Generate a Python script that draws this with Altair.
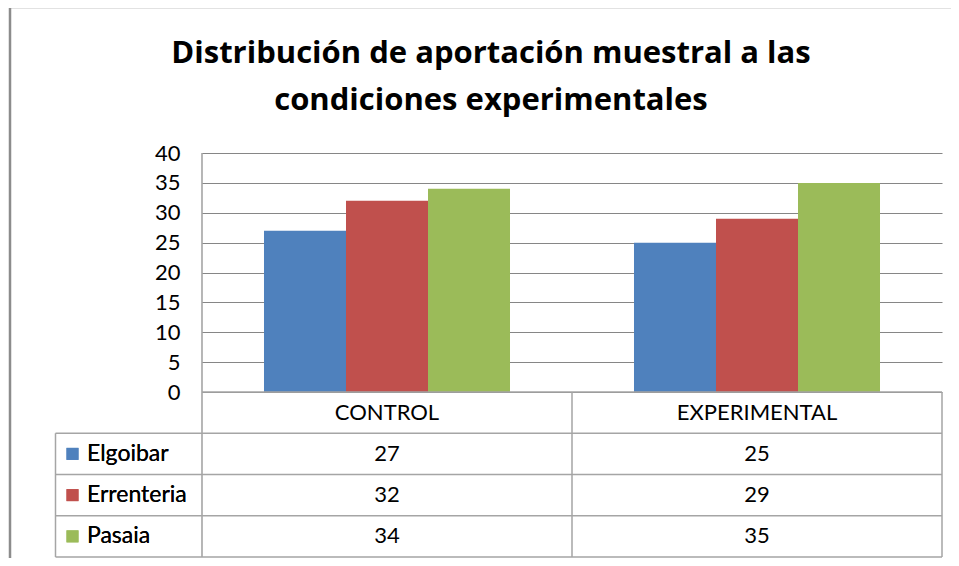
import altair as alt
import pandas as pd

categories = ["CONTROL", "EXPERIMENTAL"]
series = ["Elgoibar", "Errenteria", "Pasaia"]
control_values = [27, 32, 34]
experimental_values = [25, 29, 35]
series_colors = ["#4F81BD", "#C0504D", "#9BBB59"]
y_ticks = [0, 5, 10, 15, 20, 25, 30, 35, 40]
title_lines = ["Distribución de aportación muestral a las", "condiciones experimentales"]

rows = []
for s, c, e in zip(series, control_values, experimental_values):
    rows.append({"categoria": categories[0], "serie": s, "valor": c})
    rows.append({"categoria": categories[1], "serie": s, "valor": e})
df = pd.DataFrame(rows)
one = pd.DataFrame({"k": [0]})

# layout (pixels, relative to plot area)
W = 740
H = 239
ROW = 41.25
TABLE_BOTTOM = H + 4 * ROW
LEFT_COL = -146.5

FONT = "Lato"
TITLE_FONT = "Open Sans"
GRID = "#868686"
LINE = "#A5A5A5"
FRAME = "#8C8C8C"
TXT = "#000000"

x_enc = alt.X(
    "categoria:N",
    sort=categories,
    scale=alt.Scale(domain=categories, paddingInner=0, paddingOuter=0),
    axis=alt.Axis(title=None, labelFont=FONT, labelFontSize=22, labelColor=TXT,
                  labelBaseline="middle", labelPadding=20.5, ticks=False,
                  domain=False, labelAngle=0, grid=False),
)
color_enc = alt.Color("serie:N", scale=alt.Scale(domain=series, range=series_colors), legend=None)

bars = alt.Chart(df).mark_bar().encode(
    x=x_enc,
    xOffset=alt.XOffset("serie:N", sort=series,
                        scale=alt.Scale(domain=series, paddingInner=0, paddingOuter=0.756)),
    y=alt.Y("valor:Q", scale=alt.Scale(domain=[0, 40], nice=False),
            axis=alt.Axis(values=y_ticks, title=None, grid=True, gridColor=GRID,
                          gridOpacity=1, domain=False, ticks=False, labelPadding=22,
                          labelFont=FONT, labelFontSize=22, labelColor=TXT)),
    color=color_enc,
)

table_y = alt.Y("serie:N", sort=series,
                scale=alt.Scale(type="point", domain=series, range=[H + ROW, TABLE_BOTTOM], padding=0.5),
                axis=None)

values_txt = alt.Chart(df).mark_text(font=FONT, fontSize=22, color=TXT, baseline="middle").encode(
    x=alt.X("categoria:N", sort=categories), y=table_y, text="valor:Q")

keys = alt.Chart(df).mark_square(size=144, opacity=1, filled=True).encode(
    x=alt.value(-129.5), y=table_y, color=color_enc)

row_labels = alt.Chart(df).mark_text(font=FONT, fontSize=23, color=TXT, align="left", baseline="middle").encode(
    x=alt.value(-115), y=table_y, text="serie:N")


def rule(x1, x2, y1, y2, color=LINE, width=1.5):
    return alt.Chart(one).mark_rule(color=color, strokeWidth=width).encode(
        x=alt.value(x1), x2=alt.value(x2), y=alt.value(y1), y2=alt.value(y2))


lines = [
    rule(0, 0, 0, TABLE_BOTTOM, GRID, 1.2),
    rule(0, W, H, H),
    rule(LEFT_COL, W, H + ROW, H + ROW),
    rule(LEFT_COL, W, H + 2 * ROW, H + 2 * ROW),
    rule(LEFT_COL, W, H + 3 * ROW, H + 3 * ROW),
    rule(LEFT_COL, W, TABLE_BOTTOM, TABLE_BOTTOM),
    rule(LEFT_COL, LEFT_COL, H + ROW, TABLE_BOTTOM),
    rule(W / 2, W / 2, H, TABLE_BOTTOM),
    rule(W, W, H, TABLE_BOTTOM),
    rule(-192, W + 20, -146, -146, FRAME, 2.5),
    rule(-192, -192, -146, 420, FRAME, 2.5),
]

chart = alt.layer(bars, values_txt, keys, row_labels, *lines).resolve_scale(
    y="independent"
).properties(
    width=W,
    height=H,
    padding={"left": 194, "top": 145, "right": 9, "bottom": 166},
    autosize=alt.AutoSizeParams(type="none"),
    title=alt.Title(text=title_lines, font=TITLE_FONT, fontSize=31, fontWeight="bold",
                    color=TXT, lineHeight=47, anchor="middle", dx=-81, offset=20,
                    baseline="alphabetic", dy=155),
    background="white",
).configure_view(stroke="transparent")

chart.save("out.html", embed_options={"renderer": "svg", "actions": False})
